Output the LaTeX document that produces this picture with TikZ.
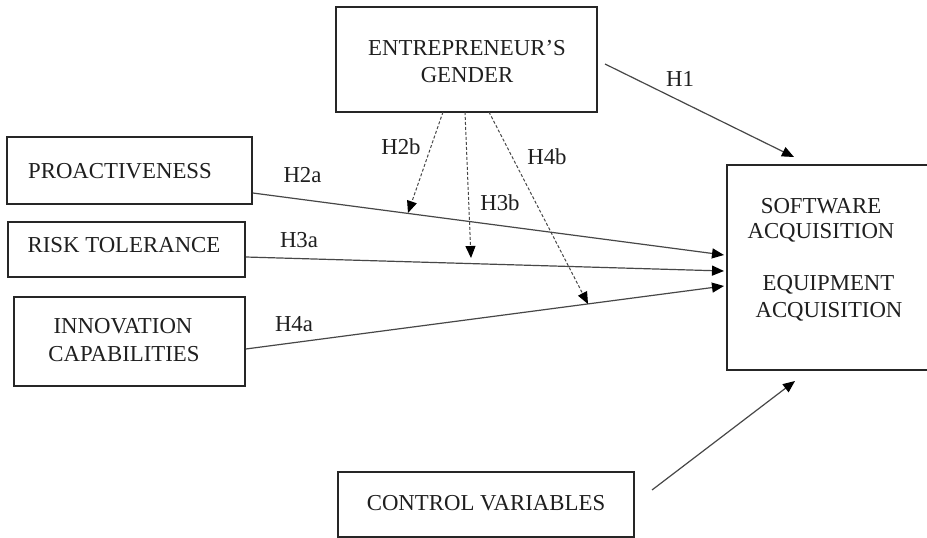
\documentclass[tikz,border=0pt]{standalone}
\usepackage{fontspec}
\setmainfont{Liberation Serif}
\usetikzlibrary{arrows.meta,calc}
\begin{document}
\begin{tikzpicture}[x=1pt,y=-1pt,
  box/.style={draw=black!85,line width=1.6pt,rectangle,inner sep=0pt},
  txt/.style={inner sep=0pt,anchor=base,text=black!88,font=\fontsize{22.8}{27}\selectfont},
  tip/.style={-{Triangle[length=12pt,width=10pt,color=black,fill=black]}},
  conn/.style={draw=black!72,line width=1.2pt,tip},
  dconn/.style={draw=black!72,line width=1pt,dash pattern=on 3pt off 2pt,tip}]
\useasboundingbox[fill=white] (0,0) rectangle (927,538);
% boxes
\node[box,minimum width=261pt,minimum height=105pt] (gen) at (466.5,59.5) {};
\node[box,minimum width=245pt,minimum height=67pt] (pro) at (129.5,170.5) {};
\node[box,minimum width=237pt,minimum height=55pt] (risk) at (126.5,249.5) {};
\node[box,minimum width=231pt,minimum height=89pt] (inno) at (129.5,341.5) {};
\node[box,minimum width=296pt,minimum height=65pt] (ctrl) at (486,504.5) {};
\node[rectangle,inner sep=0pt,minimum width=200pt,minimum height=205pt] (sw) at (827,267.5) {};
\draw[black!85,line width=1.6pt] (sw.north east) -- (sw.north west) -- (sw.south west) -- (sw.south east);
% texts
\node[txt] (gen1) at (467,55) {ENTREPRENEUR’S};
\node[txt] (gen2) at (467,82) {GENDER};
\node[txt] (protxt) at (120,178) {PROACTIVENESS};
\node[txt] (risktxt) at (124,252) {RISK TOLERANCE};
\node[txt] (inno1) at (123,333) {INNOVATION};
\node[txt] (inno2) at (124,361) {CAPABILITIES};
\node[txt] (ctrltxt) at (486,510) {CONTROL VARIABLES};
\node[txt] (sw1) at (821,213) {SOFTWARE};
\node[txt] (sw2) at (821,238) {ACQUISITION};
\node[txt] (sw3) at (828.5,290) {EQUIPMENT};
\node[txt] (sw4) at (829,317) {ACQUISITION};
% labels
\node[txt] (h1) at (680,86) {H1};
\node[txt] (h2a) at (302.5,182) {H2a};
\node[txt] (h3a) at (299,247) {H3a};
\node[txt] (h4a) at (294,331) {H4a};
\node[txt] (h2b) at (401,154) {H2b};
\node[txt] (h3b) at (500,210) {H3b};
\node[txt] (h4b) at (547,164) {H4b};
% coordinates
\coordinate (ps) at ([yshift=-22.5pt]pro.east);
\coordinate (rs) at ([yshift=-7.5pt]risk.east);
\coordinate (is) at ([yshift=-7.5pt]inno.east);
\coordinate (pe) at (724,255);
\coordinate (re) at (724,271);
\coordinate (ie) at (724,286);
\coordinate (g2) at (443,112);
\coordinate (g3) at (465,112);
\coordinate (g4) at (489,112);
\coordinate (m2) at (408,213);
\coordinate (m3) at (471,258);
\coordinate (m4) at (588,304);
\coordinate (h1s) at (605,64);
\coordinate (h1e) at (794,157);
\coordinate (cs) at (652,490);
\coordinate (ce) at (795,381);
% connectors
\draw[conn] (ps) -- (pe);
\draw[conn] (rs) -- (re);
\draw[conn] (is) -- (ie);
\draw[conn] (h1s) -- (h1e);
\draw[conn] (cs) -- (ce);
\draw[dconn] (g2) -- (m2);
\draw[dconn] (g3) -- (m3);
\draw[dconn] (g4) -- (m4);
\end{tikzpicture}
\end{document}
